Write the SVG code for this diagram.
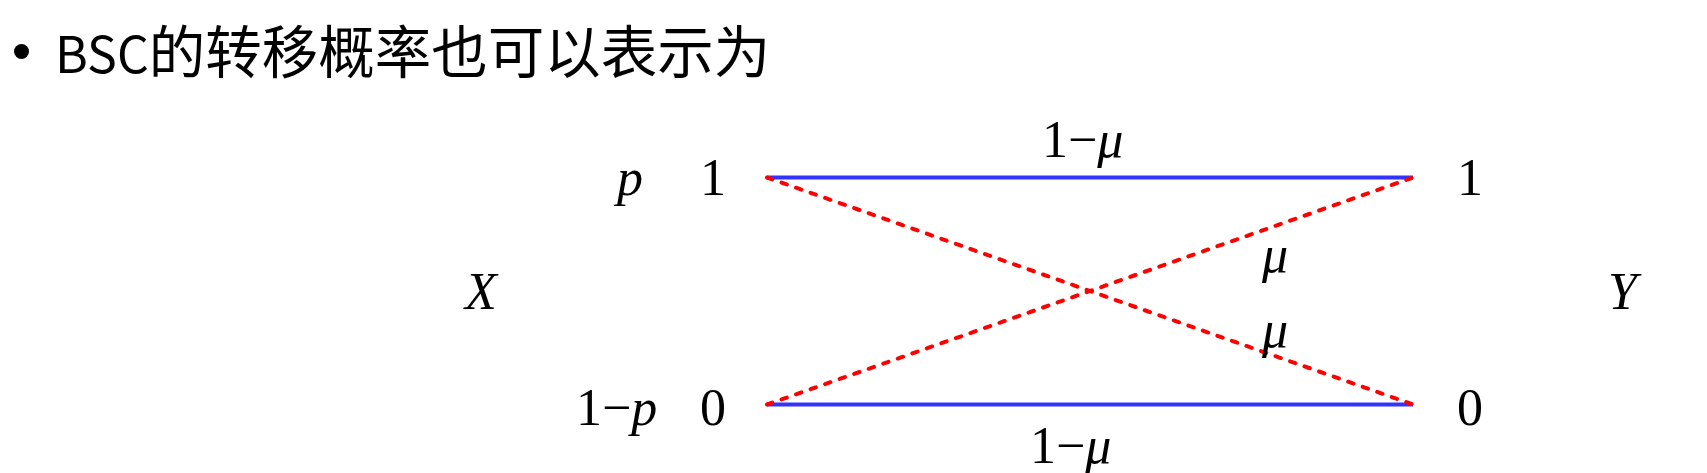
<svg xmlns="http://www.w3.org/2000/svg" width="1707" height="473" viewBox="0 0 1707 473">
<style>
.title{font-family:"Noto Sans CJK SC","Noto Sans",sans-serif;font-size:56.5px;fill:#000}
.m{font-family:"Liberation Serif","Times New Roman",serif;font-size:52px;fill:#000}
.i{font-style:italic}
.pass{stroke:#3333ff;stroke-width:4;fill:none}
.flip{stroke:#ff0000;stroke-width:4;fill:none;stroke-dasharray:5.6 9.8;stroke-linecap:round}
</style>
<rect width="1707" height="473" fill="#fff"/>
<g id="title">
<circle cx="21.5" cy="51.5" r="7.5" fill="#000"/>
<text class="title" x="55" y="73"><tspan font-size="50">BSC</tspan>的转移概率也可以表示为</text>
</g>
<g id="connectors">
<line class="pass" x1="767" y1="177.5" x2="1413" y2="177.5"/>
<line class="pass" x1="767" y1="404.5" x2="1413" y2="404.5"/>
<line class="flip" x1="767" y1="177.5" x2="1413" y2="404.5"/>
<line class="flip" x1="767" y1="404.5" x2="1413" y2="177.5"/>
</g>
<g id="edge-labels">
<text class="m" x="1042" y="157">1−<tspan class="i">μ</tspan></text>
<text class="m i" x="1262" y="272">μ</text>
<text class="m i" x="1262" y="347">μ</text>
<text class="m" x="1030" y="463">1−<tspan class="i">μ</tspan></text>
</g>
<g id="node-x1">
<text class="m i" x="617" y="195">p</text>
<text class="m" x="700" y="195">1</text>
</g>
<g id="node-x0">
<text class="m" x="576" y="425">1−<tspan class="i">p</tspan></text>
<text class="m" x="700" y="425">0</text>
</g>
<g id="node-y1">
<text class="m" x="1457" y="195">1</text>
</g>
<g id="node-y0">
<text class="m" x="1457" y="425">0</text>
</g>
<g id="label-X">
<text class="m i" x="465" y="309">X</text>
</g>
<g id="label-Y">
<text class="m i" x="1608" y="309">Y</text>
</g>
</svg>
